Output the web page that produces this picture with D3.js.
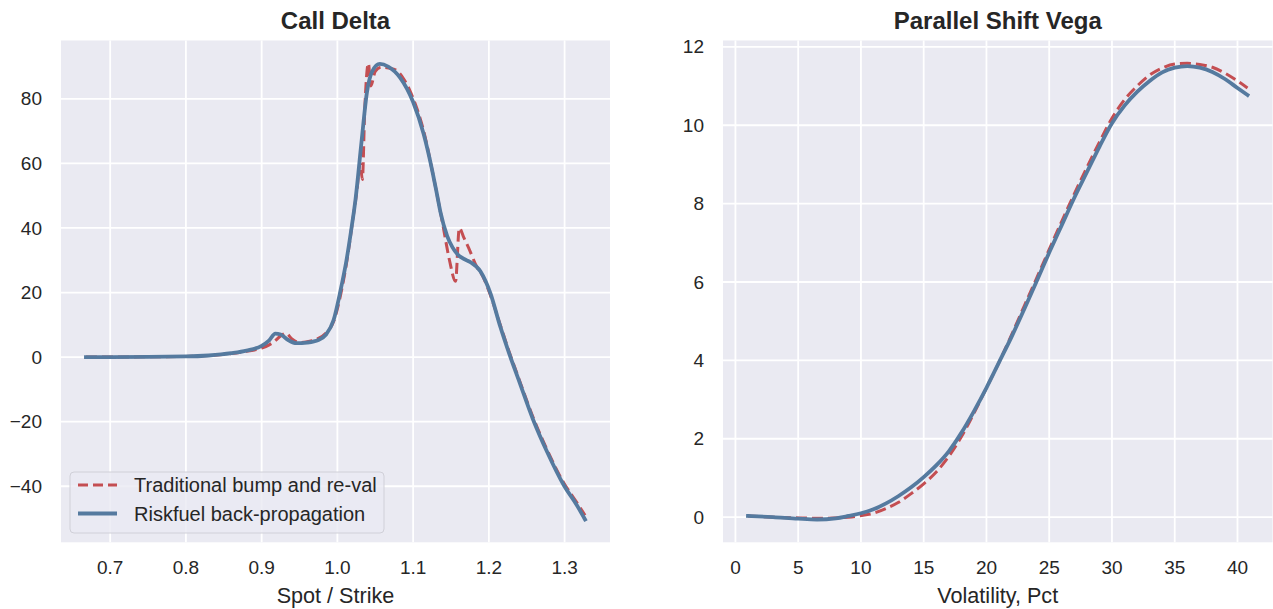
<!DOCTYPE html>
<html>
<head>
<meta charset="utf-8">
<script src="https://cdn.jsdelivr.net/npm/d3@7"></script>
<style>
    body { margin: 0; background: #ffffff; }
    svg { display: block; font-family: "Liberation Sans", Arial, sans-serif; }
    .tick-label { fill: #262626; font-size: 19px; }
    .axis-label { fill: #262626; font-size: 21.6px; }
    .title { fill: #262626; font-size: 24px; font-weight: bold; }
    .legend-text { fill: #262626; font-size: 20px; }
</style>
</head>
<body>
<div id="chart"></div>
<script>
// ---- data: Call Delta (left panel) ----
const deltaSpotBump = [0.668, 0.70, 0.75, 0.80, 0.83, 0.86, 0.88, 0.90, 0.91, 0.915, 0.925, 0.932, 0.94, 0.95, 0.965,
    0.975, 0.985, 0.995, 1.004, 1.012, 1.02, 1.026, 1.03, 1.033, 1.036, 1.041, 1.044, 1.05, 1.058, 1.068, 1.078,
    1.088, 1.096, 1.105, 1.114, 1.125, 1.131, 1.136, 1.14, 1.148, 1.156, 1.161, 1.167, 1.173, 1.184, 1.192, 1.20,
    1.215, 1.227, 1.239, 1.259, 1.277, 1.299, 1.316, 1.327];
const deltaBump = [0.0, 0.0, 0.1, 0.2, 0.5, 1.1, 1.8, 2.8, 3.8, 4.5, 6.5, 7.4, 5.6, 4.5, 5.0,
    5.8, 7.5, 11.0, 19.0, 29.0, 42.0, 52.0, 60.0, 55.0, 76.0, 91.0, 84.0, 88.5, 89.8, 89.5, 88.8,
    86.0, 82.4, 77.0, 70.0, 58.0, 51.0, 45.0, 40.0, 30.0, 23.5, 40.0, 37.0, 34.0, 28.0, 25.0, 20.5,
    10.0, 1.5, -6.3, -19.0, -28.8, -39.0, -45.0, -49.0];

const deltaSpotRf = [0.668, 0.70, 0.75, 0.80, 0.83, 0.86, 0.88, 0.90, 0.91, 0.918, 0.925, 0.935, 0.946, 0.96,
    0.975, 0.985, 0.995, 1.004, 1.012, 1.018, 1.024, 1.032, 1.039, 1.046, 1.056, 1.067, 1.083, 1.10, 1.114,
    1.125, 1.131, 1.136, 1.145, 1.152, 1.16, 1.168, 1.175, 1.189, 1.202, 1.215, 1.227, 1.239, 1.259, 1.277,
    1.299, 1.316, 1.327];
const deltaRf = [0.0, 0.0, 0.1, 0.2, 0.5, 1.2, 2.0, 3.5, 5.2, 7.3, 7.0, 5.3, 4.3, 4.5,
    5.3, 7.0, 11.5, 20.5, 30.0, 39.0, 49.0, 67.0, 82.0, 88.5, 90.8, 90.0, 86.5, 79.0, 69.0,
    58.0, 51.0, 45.0, 37.5, 34.0, 31.5, 30.3, 29.5, 26.5, 19.8, 9.5, 1.0, -6.8, -19.7, -29.4,
    -39.7, -45.8, -50.3];

// ---- data: Parallel Shift Vega (right panel) ----
const volBump = [1, 3, 5, 7, 9, 10, 11, 12, 13, 14, 15, 16, 17, 18, 19, 20, 21, 22, 23, 24, 25, 26, 27, 28,
    29, 30, 31, 32, 33, 34, 35, 36, 37, 38, 39, 40, 40.8];
const vegaBump = [0.03, 0.0, -0.02, -0.03, 0.0, 0.04, 0.1, 0.22, 0.38, 0.6, 0.85, 1.15, 1.55, 2.05, 2.65, 3.3,
    3.95, 4.65, 5.38, 6.1, 6.83, 7.55, 8.25, 8.92, 9.57, 10.18, 10.65, 11.0, 11.28, 11.46, 11.56, 11.58, 11.55,
    11.48, 11.33, 11.13, 10.95];

const volRf = [1, 3, 5, 6.5, 8, 9, 10, 11, 12, 13, 14, 15, 16, 17, 18, 19, 20, 21, 22, 23, 24, 25, 26, 27, 28,
    29, 30, 31, 32, 33, 34, 35, 36, 37, 38, 39, 40, 40.8];
const vegaRf = [0.03, 0.0, -0.04, -0.06, -0.03, 0.03, 0.1, 0.2, 0.35, 0.54, 0.76, 1.02, 1.32, 1.68, 2.15, 2.7,
    3.3, 3.95, 4.6, 5.3, 6.02, 6.75, 7.45, 8.15, 8.8, 9.45, 10.05, 10.5, 10.85, 11.13, 11.35, 11.47, 11.51,
    11.47, 11.36, 11.18, 10.95, 10.77];

// ---- tick labels ----
const deltaXTicks = [0.7, 0.8, 0.9, 1.0, 1.1, 1.2, 1.3];
const deltaYTicks = [-40, -20, 0, 20, 40, 60, 80];
const vegaXTicks = [0, 5, 10, 15, 20, 25, 30, 35, 40];
const vegaYTicks = [0, 2, 4, 6, 8, 10, 12];

const legendLabels = ['Traditional bump and re-val', 'Riskfuel back-propagation'];

const RED = '#c44e52';
const BLUE = '#557a9f';
const BG = '#eaeaf2';

const W = 1273, H = 609;
const svg = d3.select('#chart').append('svg')
    .attr('width', W)
    .attr('height', H);

// matplotlib-like autoscale: 5% padding on each side
function padded(values) {
    const [lo, hi] = d3.extent(values);
    const m = (hi - lo) * 0.05;
    return [lo - m, hi + m];
}

function drawPanel(opt) {
    const g = svg.append('g');
    const x = d3.scaleLinear()
        .domain(padded(opt.xs.flat()))
        .range([opt.left, opt.right]);
    const y = d3.scaleLinear()
        .domain(padded(opt.ys.flat()))
        .range([opt.bottom, opt.top]);

    // 背景
    g.append('rect')
        .attr('x', opt.left)
        .attr('y', opt.top)
        .attr('width', opt.right - opt.left)
        .attr('height', opt.bottom - opt.top)
        .attr('fill', BG);

    // 网格线
    g.append('g').selectAll('line')
        .data(opt.xTicks)
        .enter().append('line')
        .attr('x1', d => x(d)).attr('x2', d => x(d))
        .attr('y1', opt.top).attr('y2', opt.bottom)
        .attr('stroke', '#fff').attr('stroke-width', 1.8);
    g.append('g').selectAll('line')
        .data(opt.yTicks)
        .enter().append('line')
        .attr('y1', d => y(d)).attr('y2', d => y(d))
        .attr('x1', opt.left).attr('x2', opt.right)
        .attr('stroke', '#fff').attr('stroke-width', 1.8);

    // tick labels
    g.append('g').selectAll('text')
        .data(opt.xTicks)
        .enter().append('text')
        .attr('class', 'tick-label')
        .attr('x', d => x(d))
        .attr('y', opt.bottom + 32)
        .attr('text-anchor', 'middle')
        .text(opt.xFormat);
    g.append('g').selectAll('text')
        .data(opt.yTicks)
        .enter().append('text')
        .attr('class', 'tick-label')
        .attr('x', opt.left - 19)
        .attr('y', d => y(d))
        .attr('dy', '0.35em')
        .attr('text-anchor', 'end')
        .text(opt.yFormat);

    // clip lines to the axes box
    const clipId = 'clip-' + opt.id;
    svg.append('defs').append('clipPath')
        .attr('id', clipId)
        .append('rect')
        .attr('x', opt.left).attr('y', opt.top)
        .attr('width', opt.right - opt.left)
        .attr('height', opt.bottom - opt.top);

    const line = d3.line()
        .x(d => x(d[0]))
        .y(d => y(d[1]))
        .curve(d3.curveMonotoneX);

    const lines = g.append('g').attr('clip-path', `url(#${clipId})`);
    lines.append('path')
        .datum(d3.zip(opt.xs[0], opt.ys[0]))
        .attr('d', line)
        .attr('fill', 'none')
        .attr('stroke', RED)
        .attr('stroke-width', 3)
        .attr('stroke-dasharray', '11,5');
    lines.append('path')
        .datum(d3.zip(opt.xs[1], opt.ys[1]))
        .attr('d', line)
        .attr('fill', 'none')
        .attr('stroke', BLUE)
        .attr('stroke-width', 3.8)
        .attr('stroke-linecap', 'square')
        .attr('stroke-linejoin', 'round');

    // title and x label
    g.append('text')
        .attr('class', 'title')
        .attr('x', (opt.left + opt.right) / 2)
        .attr('y', 29)
        .attr('text-anchor', 'middle')
        .text(opt.title);
    g.append('text')
        .attr('class', 'axis-label')
        .attr('x', (opt.left + opt.right) / 2)
        .attr('y', 603)
        .attr('text-anchor', 'middle')
        .text(opt.xLabel);

    return g;
}

const fmt1 = d3.format('.1f');
const fmtInt = d3.format('d');

const left = drawPanel({
    id: 'delta',
    left: 61, right: 610, top: 40.5, bottom: 542.3,
    xs: [deltaSpotBump, deltaSpotRf],
    ys: [deltaBump, deltaRf],
    xTicks: deltaXTicks, yTicks: deltaYTicks,
    xFormat: fmt1, yFormat: fmtInt,
    title: 'Call Delta',
    xLabel: 'Spot / Strike'
});

drawPanel({
    id: 'vega',
    left: 723, right: 1272.5, top: 40.5, bottom: 542.3,
    xs: [volBump, volRf],
    ys: [vegaBump, vegaRf],
    xTicks: vegaXTicks, yTicks: vegaYTicks,
    xFormat: fmtInt, yFormat: fmtInt,
    title: 'Parallel Shift Vega',
    xLabel: 'Volatility, Pct'
});

// 图例
const legend = left.append('g');
legend.append('rect')
    .attr('x', 70).attr('y', 472)
    .attr('width', 314).attr('height', 61)
    .attr('rx', 4)
    .attr('fill', BG).attr('fill-opacity', 0.8)
    .attr('stroke', '#d0d0d8').attr('stroke-width', 1);
legendLabels.forEach((label, i) => {
    const yy = 485 + i * 28.5;
    legend.append('line')
        .attr('x1', 78).attr('x2', 117)
        .attr('y1', yy).attr('y2', yy)
        .attr('stroke', i === 0 ? RED : BLUE)
        .attr('stroke-width', i === 0 ? 3 : 3.8)
        .attr('stroke-dasharray', i === 0 ? '10,5' : null);
    legend.append('text')
        .attr('class', 'legend-text')
        .attr('x', 134)
        .attr('y', yy)
        .attr('dy', '0.35em')
        .text(label);
});
</script>
</body>
</html>
